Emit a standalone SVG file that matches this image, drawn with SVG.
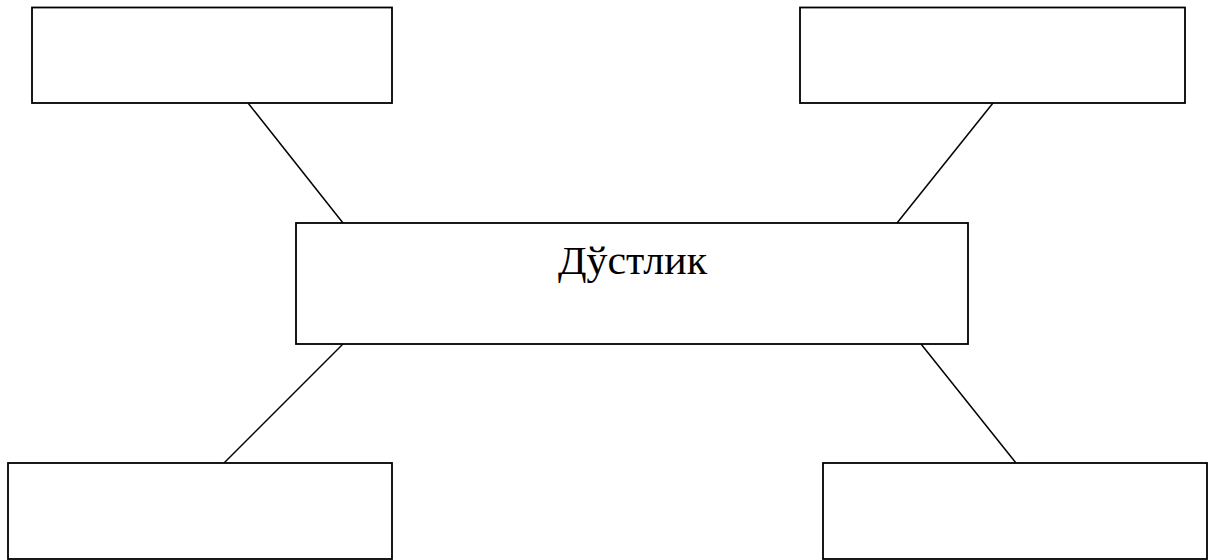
<svg xmlns="http://www.w3.org/2000/svg" width="1208" height="560" viewBox="0 0 1208 560">
<style>
.box{fill:#fff;stroke:#000;stroke-width:1.8}
.ln{stroke:#000;stroke-width:1.5;fill:none}
.lbl{font-family:"Liberation Serif","Times New Roman",serif;font-size:39px;fill:#000}
</style>
<rect width="1208" height="560" fill="#fff"/>
<g id="connectors">
<line class="ln" x1="248" y1="103" x2="343" y2="223"/>
<line class="ln" x1="993" y1="103" x2="897" y2="223"/>
<line class="ln" x1="343" y1="344" x2="224" y2="463"/>
<line class="ln" x1="921" y1="344" x2="1016" y2="463"/>
</g>
<g id="node-top-left"><rect class="box" x="32" y="7.5" width="360" height="95.5"/></g>
<g id="node-top-right"><rect class="box" x="800" y="7.5" width="385" height="95.5"/></g>
<g id="node-center"><rect class="box" x="296" y="223" width="672" height="121"/>
<text class="lbl" x="558" y="274" textLength="149" lengthAdjust="spacingAndGlyphs">Дўстлик</text></g>
<g id="node-bottom-left"><rect class="box" x="8" y="463" width="384" height="96"/></g>
<g id="node-bottom-right"><rect class="box" x="823" y="463" width="384" height="96"/></g>
</svg>
